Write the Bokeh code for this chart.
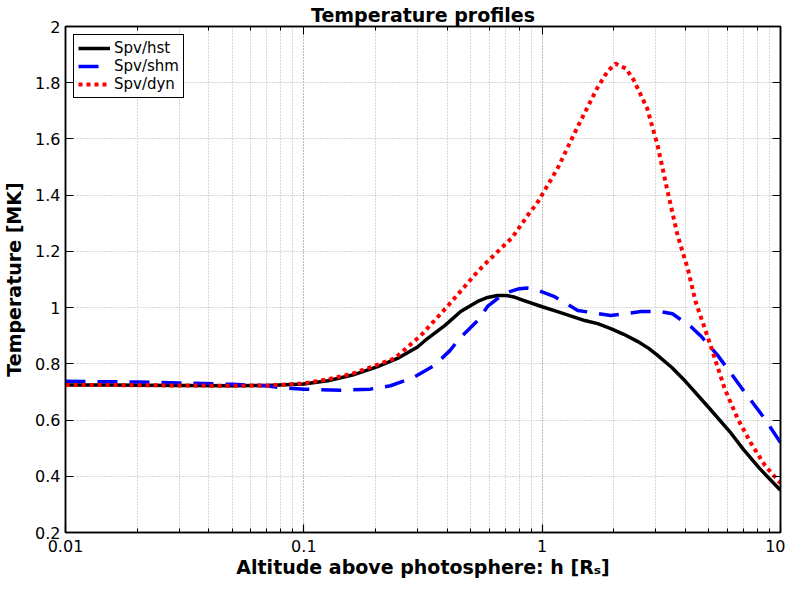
from bokeh.plotting import figure
from bokeh.models import (LogAxis, LinearAxis, FixedTicker, LogTicker,
                          CustomJSTickFormatter, Legend, LegendItem)
from bokeh.embed import file_html
from bokeh.resources import INLINE

# ---------------- data ----------------
hst_x = [0.01, 0.015, 0.02, 0.03, 0.05, 0.07, 0.1, 0.126, 0.16, 0.204, 0.247,
         0.30, 0.33, 0.39, 0.455, 0.536, 0.59, 0.65, 0.71, 0.76, 0.84, 1.0,
         1.16, 1.51, 1.71, 1.94, 2.2, 2.51, 2.8, 3.05, 3.5, 4.0, 5.04, 6.11,
         7.0, 8.17, 10.0]
hst_T = [0.725, 0.725, 0.724, 0.723, 0.722, 0.723, 0.728, 0.74, 0.76, 0.79,
         0.819, 0.86, 0.89, 0.936, 0.986, 1.022, 1.036, 1.043, 1.043, 1.038,
         1.025, 1.003, 0.986, 0.954, 0.943, 0.925, 0.905, 0.88, 0.855, 0.83,
         0.787, 0.737, 0.641, 0.56, 0.495, 0.428, 0.35]

shm_x = [0.01, 0.02, 0.03, 0.05, 0.07, 0.08, 0.1, 0.143, 0.19, 0.231, 0.286,
         0.354, 0.41, 0.45, 0.536, 0.59, 0.69, 0.79, 0.86, 0.93, 1.12, 1.41,
         1.94, 2.6, 3.14, 3.52, 4.2, 4.62, 5.45, 7.07, 8.58, 10.0]
shm_T = [0.738, 0.735, 0.732, 0.727, 0.722, 0.715, 0.71, 0.706, 0.71, 0.722,
         0.75, 0.795, 0.847, 0.89, 0.954, 1.004, 1.05, 1.066, 1.07, 1.066,
         1.04, 0.99, 0.972, 0.986, 0.986, 0.978, 0.933, 0.90, 0.83, 0.70,
         0.605, 0.52]

dyn_x = [0.01, 0.02, 0.03, 0.05, 0.07, 0.1, 0.126, 0.16, 0.204, 0.24, 0.309,
         0.40, 0.536, 0.59, 0.75, 0.893, 0.95, 1.16, 1.41, 1.7, 1.88, 2.03,
         2.25, 2.42, 2.76, 3.05, 3.36, 3.7, 4.08, 4.4, 5.09, 5.83, 6.61, 7.49,
         8.58, 10.0]
dyn_T = [0.725, 0.724, 0.723, 0.722, 0.723, 0.73, 0.745, 0.765, 0.797, 0.819,
         0.90, 1.004, 1.128, 1.164, 1.25, 1.342, 1.37, 1.495, 1.644, 1.78,
         1.84, 1.868, 1.85, 1.81, 1.708, 1.577, 1.413, 1.257, 1.139, 1.022,
         0.865, 0.712, 0.605, 0.52, 0.44, 0.375]

series_labels = ["Spv/hst", "Spv/shm", "Spv/dyn"]
y_ticks = [0.2, 0.4, 0.6, 0.8, 1.0, 1.2, 1.4, 1.6, 1.8, 2.0]

title_text = "Temperature profiles"
x_label = "Altitude above photosphere: h [R\u209b]"
y_label = "Temperature [MK]"

FONT = "DejaVu Sans"

# ---------------- figure ----------------
p = figure(x_axis_type="log", x_range=(0.01, 10), y_range=(0.2, 2.0),
           frame_width=715, frame_height=506,
           min_border_left=60, min_border_right=5, min_border_top=20,
           min_border_bottom=50,
           output_backend="svg", toolbar_location=None, title=title_text)

p.background_fill_color = "white"
p.border_fill_color = "white"
p.outline_line_color = "black"
p.outline_line_width = 1.5

p.title.align = "center"
p.title.text_font = FONT
p.title.text_font_size = "19px"
p.title.text_font_style = "bold"
p.title.text_color = "black"
p.title.standoff = 2

x_fmt = CustomJSTickFormatter(code="return String(Number(tick.toPrecision(2)));")
y_fmt = CustomJSTickFormatter(code="return String(Math.round(tick*10)/10);")

xa = p.xaxis[0]
ya = p.yaxis[0]
ya.ticker = FixedTicker(ticks=y_ticks)
xa.formatter = x_fmt
ya.formatter = y_fmt

for ax in (xa, ya):
    ax.axis_line_color = "black"
    ax.axis_line_width = 1.5
    ax.major_tick_in = 8
    ax.major_tick_out = 0
    ax.minor_tick_in = 4
    ax.minor_tick_out = 0
    ax.major_tick_line_width = 1.2
    ax.minor_tick_line_width = 1
    ax.major_tick_line_color = "black"
    ax.minor_tick_line_color = "black"
    ax.major_label_text_font = FONT
    ax.major_label_text_font_size = "16px"
    ax.major_label_text_color = "black"
    ax.axis_label_text_font = FONT
    ax.axis_label_text_font_size = "19px"
    ax.axis_label_text_font_style = "bold"
    ax.axis_label_text_color = "black"
ya.minor_tick_line_color = None
xa.axis_label = x_label
ya.axis_label = y_label
xa.major_label_standoff = 7
ya.major_label_standoff = 5
xa.axis_label_standoff = 1
ya.axis_label_standoff = 7

# top and right axes for the box ticks (no labels)
top = LogAxis(ticker=LogTicker(), formatter=x_fmt)
right = LinearAxis(ticker=FixedTicker(ticks=y_ticks), formatter=y_fmt)
for ax in (top, right):
    ax.axis_line_color = "black"
    ax.axis_line_width = 1.5
    ax.major_tick_in = 8
    ax.major_tick_out = 0
    ax.minor_tick_in = 4
    ax.minor_tick_out = 0
    ax.major_label_text_font_size = "1px"
    ax.major_label_text_color = None
    ax.major_label_standoff = 0
    ax.major_tick_line_color = "black"
    ax.minor_tick_line_color = "black"
right.minor_tick_line_color = None
p.add_layout(top, "above")
p.add_layout(right, "right")

# grids
for g in (p.xgrid[0], p.ygrid[0]):
    g.grid_line_color = "#b0b0b0"
    g.grid_line_dash = "1 2"
    g.grid_line_width = 1
p.xgrid[0].minor_grid_line_color = "#b0b0b0"
p.xgrid[0].minor_grid_line_dash = "1 2"
p.xgrid[0].minor_grid_line_width = 1
p.ygrid[0].ticker = FixedTicker(ticks=y_ticks)

# curves
r1 = p.line(hst_x, hst_T, line_color="black", line_width=3.5,
            line_join="round")
r2 = p.line(shm_x, shm_T, line_color="#0000ff", line_width=3.5,
            line_dash="20 12", line_join="round")
r3 = p.line(dyn_x, dyn_T, line_color="#ff0000", line_width=4,
            line_dash="4 4")

legend = Legend(items=[LegendItem(label=series_labels[0], renderers=[r1]),
                       LegendItem(label=series_labels[1], renderers=[r2]),
                       LegendItem(label=series_labels[2], renderers=[r3])],
                location="top_left")
legend.margin = 8
legend.padding = 4
legend.spacing = 0
legend.glyph_width = 32
legend.glyph_height = 18
legend.label_height = 18
legend.label_standoff = 4
legend.label_text_font = FONT
legend.label_text_font_size = "15px"
legend.label_text_color = "black"
legend.border_line_color = "black"
legend.border_line_width = 1
legend.border_line_alpha = 1
legend.background_fill_color = "white"
legend.background_fill_alpha = 1
p.add_layout(legend, "center")

open("out.html", "w").write(file_html(p, INLINE))
